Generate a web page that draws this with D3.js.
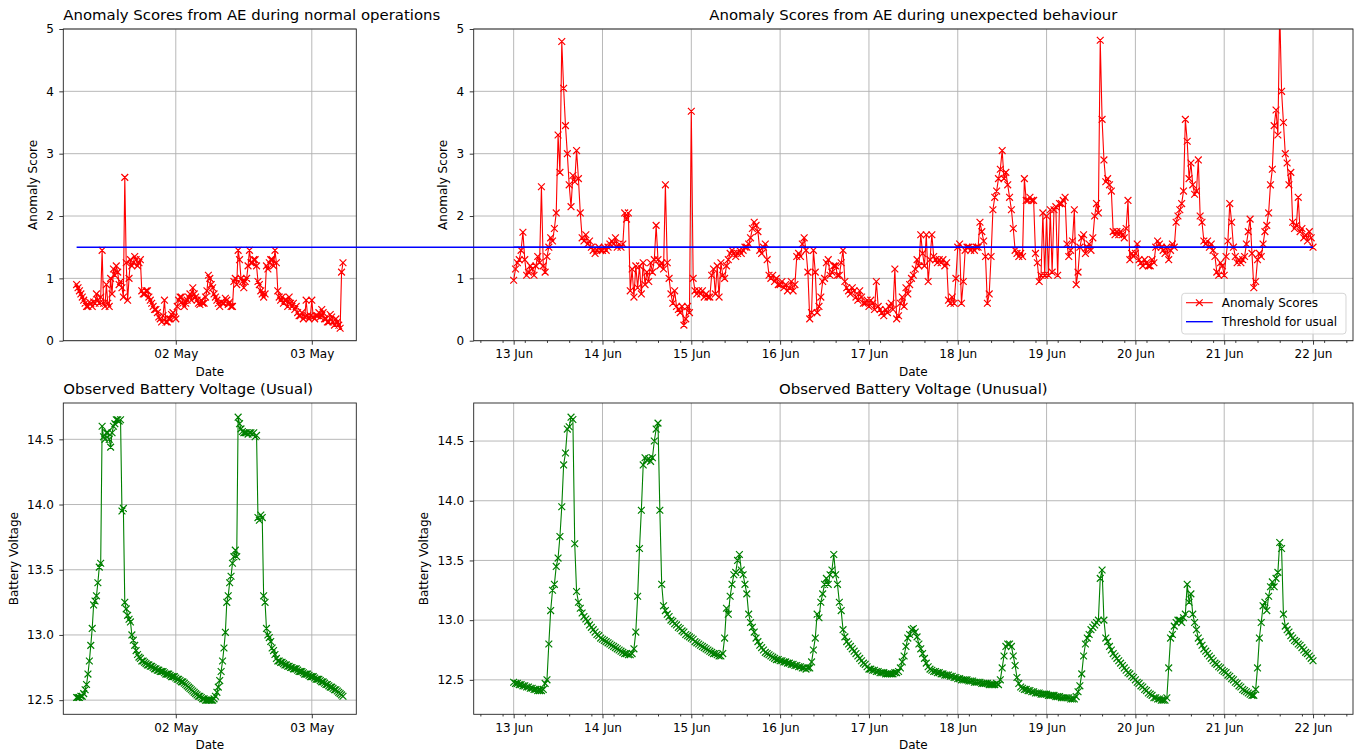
<!DOCTYPE html>
<html>

<head>
  <meta charset="utf-8">
  <title>Anomaly Scores</title>
  <style>
  body{
    margin: 0;
    background: #fff;
  }
  svg text{
    font-family: "DejaVu Sans", sans-serif;
    fill: #000;
  }
  </style>
</head>

<body>
  <svg width="1359" height="756"></svg>
  <script src="https://d3js.org/d3.v7.min.js"></script>
  <script>
    // ---- data ----
    // usual period: every 15 min from 01 May 06:30
    var usualStart = "2023-05-01T06:30:00Z";
    var usualStepMin = 15;
    var usualScores = [
      0.9, 0.85, 0.8, 0.75, 0.7, 0.65, 0.6, 0.55, 0.55, 0.62, 0.6, 0.55, 0.62, 0.6, 0.75, 0.65, 0.6, 0.7, 1.45, 0.6,
      0.55, 0.9, 0.6, 0.55, 1.0, 0.75, 1.15, 1.05, 1.2, 1.1, 0.9, 0.95, 0.85, 0.7, 2.62, 1.25, 0.65, 1.0, 1.3, 1.2,
      1.25, 1.35, 1.3, 1.2, 1.25, 1.3, 0.8, 0.75, 0.75, 0.8, 0.8, 0.7, 0.65, 0.6, 0.55, 0.5, 0.5, 0.45, 0.38, 0.35,
      0.3, 0.4, 0.65, 0.3, 0.3, 0.35, 0.35, 0.42, 0.45, 0.38, 0.35, 0.55, 0.65, 0.7, 0.7, 0.6, 0.55, 0.6, 0.65, 0.7,
      0.75, 0.65, 0.85, 0.75, 0.7, 0.65, 0.6, 0.58, 0.65, 0.6, 0.6, 0.7, 0.8, 1.05, 1.0, 0.9, 0.85, 0.75, 0.7, 0.65,
      0.6, 0.55, 0.62, 0.6, 0.6, 0.68, 0.65, 0.58, 0.62, 0.55, 0.55, 0.95, 1.0, 0.9, 1.45, 1.3, 1.0, 0.95, 0.85, 0.95,
      1.0, 1.2, 1.45, 1.25, 1.25, 1.3, 1.3, 1.2, 0.95, 0.9, 0.8, 0.75, 0.7, 0.75, 1.2, 1.15, 1.25, 1.3, 1.3, 1.2,
      1.45, 1.25, 0.8, 0.7, 0.65, 0.7, 0.6, 0.65, 0.65, 0.55, 0.7, 0.6, 0.55, 0.6, 0.5, 0.55, 0.45, 0.4, 0.4, 0.45,
      0.35, 0.38, 0.65, 0.4, 0.35, 0.4, 0.65, 0.38, 0.35, 0.4, 0.4, 0.45, 0.38, 0.5, 0.45, 0.35, 0.35, 0.3, 0.3, 0.42,
      0.38, 0.3, 0.25, 0.35, 0.3, 0.25, 0.2, 1.1, 1.25
    ];
    var usualVoltage = [
      12.52, 12.52, 12.52, 12.53, 12.53, 12.55, 12.58, 12.62, 12.7, 12.8, 12.92, 13.05, 13.23, 13.26, 13.3, 13.4, 13.52, 13.55, 14.6, 14.52,
      14.5, 14.55, 14.55, 14.5, 14.44, 14.55, 14.6, 14.62, 14.65, 14.65, 14.64, 14.65, 13.95, 13.97, 13.25, 13.2, 13.15, 13.12, 13.1, 13.0,
      12.96, 12.92, 12.88, 12.85, 12.83, 12.82, 12.8, 12.8, 12.79, 12.78, 12.77, 12.77, 12.76, 12.76, 12.75, 12.74, 12.74, 12.73, 12.73, 12.72,
      12.72, 12.72, 12.71, 12.7, 12.7, 12.7, 12.69, 12.68, 12.68, 12.68, 12.67, 12.66, 12.66, 12.65, 12.64, 12.64, 12.63, 12.62, 12.61, 12.6,
      12.59, 12.58, 12.57, 12.56, 12.55, 12.54, 12.53, 12.53, 12.52, 12.51, 12.51, 12.5, 12.5, 12.5, 12.5, 12.5, 12.5, 12.51, 12.53, 12.56,
      12.6, 12.65, 12.72, 12.8, 12.9, 13.02, 13.25, 13.3, 13.4, 13.45, 13.55, 13.6, 13.65, 13.6, 14.67, 14.62, 14.58, 14.56, 14.55, 14.55,
      14.55, 14.54, 14.55, 14.55, 14.54, 14.55, 14.52, 14.53, 13.9, 13.88, 13.92, 13.9, 13.3, 13.25, 13.05, 13.0, 12.98, 12.95, 12.9, 12.88,
      12.85, 12.82, 12.8, 12.8, 12.79, 12.79, 12.78, 12.77, 12.77, 12.76, 12.76, 12.75, 12.75, 12.74, 12.74, 12.74, 12.73, 12.72, 12.72, 12.72,
      12.71, 12.7, 12.7, 12.7, 12.69, 12.68, 12.68, 12.68, 12.67, 12.66, 12.66, 12.66, 12.65, 12.64, 12.64, 12.63, 12.62, 12.62, 12.61, 12.6,
      12.6, 12.59, 12.58, 12.58, 12.57, 12.56, 12.55, 12.54, 12.53
    ];

    // unusual period: every 30 min from 13 Jun 00:00 to 22 Jun 00:00, one row per day
    var unusualStart = "2023-06-13T00:00:00Z";
    var unusualStepMin = 30;
    var unusualScores = [
      0.97, 1.15, 1.25, 1.3, 1.45, 1.74, 1.3, 1.05, 1.1, 1.2, 1.15, 1.05, 1.2, 1.35, 1.25, 2.47, 1.2, 1.1, 1.35, 1.5, 1.65, 1.6, 1.8, 2.05, 3.3, 2.7, 4.8, 4.05, 3.45, 3.0, 2.5, 2.15, 2.65, 2.55, 3.05, 2.6, 2.05, 1.65, 1.6, 1.7, 1.55, 1.6, 1.5, 1.45, 1.4, 1.45, 1.5, 1.45,
      1.45, 1.5, 1.45, 1.5, 1.55, 1.6, 1.55, 1.65, 1.5, 1.55, 1.5, 1.55, 2.05, 1.95, 2.05, 0.8, 1.15, 0.7, 1.2, 0.85, 1.2, 0.75, 1.25, 0.9, 1.1, 0.95, 1.25, 1.1, 1.3, 1.85, 1.3, 1.2, 1.25, 1.15, 2.5, 1.25, 1.0, 0.75, 0.6, 0.8, 0.55, 0.5, 0.45, 0.55, 0.25, 0.35, 0.55, 0.45,
      3.68, 1.0, 0.8, 0.75, 0.8, 0.75, 0.8, 0.7, 0.75, 0.7, 0.7, 1.05, 1.15, 0.75, 1.2, 0.7, 1.25, 1.05, 1.0, 1.2, 1.3, 1.4, 1.45, 1.4, 1.35, 1.4, 1.45, 1.4, 1.45, 1.5, 1.5, 1.55, 1.65, 1.8, 1.9, 1.85, 1.75, 1.45, 1.4, 1.5, 1.55, 1.3, 1.05, 1.0, 1.05, 0.95, 1.0, 0.9,
      0.9, 0.95, 0.85, 0.9, 0.8, 0.85, 0.95, 0.8, 0.9, 1.35, 1.4, 1.35, 1.55, 1.65, 1.45, 1.1, 0.35, 0.45, 1.45, 1.1, 0.45, 0.55, 0.7, 0.95, 1.0, 1.25, 1.3, 1.05, 1.1, 1.2, 1.2, 1.05, 1.05, 1.25, 1.45, 0.95, 0.85, 0.8, 0.75, 0.85, 0.8, 0.7, 0.65, 0.8, 0.7, 0.6, 0.6, 0.65,
      0.55, 0.65, 0.6, 0.5, 0.95, 0.55, 0.5, 0.45, 0.4, 0.5, 0.45, 0.55, 0.6, 0.5, 1.15, 0.35, 0.4, 0.6, 0.7, 0.55, 0.85, 0.75, 0.9, 1.0, 1.05, 1.15, 1.3, 1.2, 1.7, 1.4, 1.2, 1.7, 0.95, 1.3, 1.7, 1.35, 1.3, 1.25, 1.3, 1.25, 1.3, 1.2, 1.25, 0.65, 0.6, 0.7, 0.6, 1.0,
      1.5, 1.55, 0.6, 0.95, 1.45, 1.5, 1.5, 1.45, 1.5, 1.45, 1.5, 1.5, 1.9, 1.75, 1.6, 1.35, 0.6, 0.75, 1.35, 2.1, 2.3, 2.4, 2.6, 2.75, 3.05, 2.6, 2.7, 2.5, 2.3, 2.1, 1.8, 1.45, 1.4, 1.35, 1.4, 1.35, 2.6, 2.25, 2.25, 2.3, 2.25, 2.25, 1.4, 1.25, 0.95, 1.05, 2.05, 1.05,
      2.0, 1.05, 2.1, 1.1, 2.1, 2.15, 1.05, 2.2, 2.2, 2.25, 2.3, 1.55, 1.35, 1.45, 1.6, 2.1, 0.9, 1.1, 1.5, 1.65, 1.7, 1.4, 1.5, 1.55, 1.45, 1.65, 2.0, 2.2, 2.05, 4.82, 3.55, 2.9, 2.55, 2.6, 2.5, 2.4, 1.75, 1.7, 1.75, 1.7, 1.75, 1.7, 1.65, 1.8, 2.25, 1.3, 1.4, 1.35,
      1.4, 1.55, 1.3, 1.25, 1.2, 1.3, 1.25, 1.2, 1.2, 1.3, 1.25, 1.5, 1.6, 1.55, 1.5, 1.45, 1.4, 1.5, 1.3, 1.45, 1.55, 1.5, 1.9, 2.0, 2.1, 2.2, 2.4, 3.55, 3.2, 2.6, 2.85, 2.5, 2.35, 2.4, 2.9, 2.0, 1.9, 1.6, 1.55, 1.6, 1.5, 1.55, 1.45, 1.35, 1.1, 1.05, 1.25, 1.2,
      1.05, 1.35, 1.6, 2.2, 1.9, 1.5, 1.35, 1.25, 1.3, 1.25, 1.3, 1.35, 1.55, 1.75, 1.95, 1.4, 0.85, 0.95, 1.3, 1.4, 1.35, 1.55, 1.75, 1.85, 2.05, 2.5, 2.75, 3.45, 3.7, 3.3, 5.3, 4.0, 3.5, 3.0, 2.85, 2.5, 2.7, 1.9, 1.8, 1.85, 2.3, 1.75, 1.8, 1.65, 1.7, 1.6, 1.75, 1.65,
      1.5
    ];
    var unusualVoltage = [
      12.48, 12.47, 12.47, 12.46, 12.46, 12.45, 12.45, 12.44, 12.44, 12.43, 12.43, 12.42, 12.42, 12.41, 12.41, 12.41, 12.42, 12.47, 12.5, 12.8, 13.08, 13.25, 13.3, 13.45, 13.52, 13.7, 13.95, 14.3, 14.4, 14.6, 14.62, 14.7, 14.68, 13.64, 13.24, 13.15, 13.1, 13.06, 13.03, 13.01, 12.99, 12.96, 12.94, 12.92, 12.9, 12.88, 12.87, 12.85,
      12.84, 12.83, 12.82, 12.81, 12.8, 12.79, 12.78, 12.77, 12.76, 12.75, 12.74, 12.73, 12.72, 12.72, 12.71, 12.71, 12.72, 12.76, 12.9, 13.2, 13.6, 13.92, 14.3, 14.36, 14.34, 14.35, 14.33, 14.36, 14.5, 14.6, 14.65, 13.92, 13.3, 13.12, 13.08, 13.05, 13.03, 13.0, 12.99, 12.97, 12.96, 12.94, 12.93, 12.91, 12.9, 12.88, 12.87, 12.86,
      12.85, 12.84, 12.82, 12.81, 12.8, 12.79, 12.78, 12.77, 12.76, 12.75, 12.74, 12.73, 12.72, 12.72, 12.71, 12.7, 12.7, 12.72, 12.85, 13.1, 13.05, 13.2, 13.3, 13.38, 13.4, 13.5, 13.55, 13.42, 13.38, 13.3, 13.22, 13.05, 12.98, 12.94, 12.9, 12.85, 12.82, 12.79, 12.77, 12.75, 12.73, 12.72, 12.71, 12.7, 12.69, 12.68, 12.67, 12.67,
      12.66, 12.66, 12.65, 12.65, 12.64, 12.64, 12.63, 12.63, 12.62, 12.62, 12.61, 12.61, 12.6, 12.6, 12.59, 12.6, 12.6, 12.65, 12.75, 12.85, 13.05, 13.02, 13.15, 13.22, 13.3, 13.35, 13.3, 13.38, 13.42, 13.55, 13.38, 13.3, 13.15, 13.08, 12.92, 12.86, 12.82, 12.8, 12.78, 12.76, 12.74, 12.72, 12.7, 12.68, 12.66, 12.64, 12.63, 12.61,
      12.59, 12.59, 12.58, 12.58, 12.57, 12.57, 12.56, 12.56, 12.56, 12.55, 12.55, 12.55, 12.55, 12.55, 12.56, 12.56, 12.57, 12.6, 12.65, 12.7, 12.78, 12.85, 12.88, 12.92, 12.93, 12.9, 12.86, 12.8, 12.76, 12.72, 12.68, 12.64, 12.61, 12.59, 12.58, 12.57, 12.57, 12.56, 12.56, 12.55, 12.55, 12.54, 12.54, 12.54, 12.53, 12.53, 12.52, 12.52,
      12.51, 12.51, 12.5, 12.5, 12.5, 12.5, 12.49, 12.49, 12.49, 12.48, 12.48, 12.48, 12.48, 12.47, 12.47, 12.47, 12.47, 12.46, 12.46, 12.46, 12.46, 12.47, 12.46, 12.5, 12.6, 12.7, 12.78, 12.8, 12.8, 12.78, 12.7, 12.62, 12.52, 12.47, 12.44, 12.43, 12.42, 12.42, 12.41, 12.41, 12.4, 12.4, 12.39, 12.39, 12.39, 12.38, 12.38, 12.38,
      12.38, 12.37, 12.37, 12.37, 12.37, 12.36, 12.36, 12.36, 12.35, 12.35, 12.35, 12.35, 12.35, 12.34, 12.34, 12.34, 12.36, 12.4, 12.45, 12.55, 12.7, 12.8, 12.85, 12.88, 12.92, 12.94, 12.96, 12.98, 13.0, 13.35, 13.42, 13.0, 12.85, 12.82, 12.78, 12.75, 12.72, 12.7, 12.68, 12.66, 12.64, 12.62, 12.6, 12.58, 12.56, 12.55, 12.53, 12.52,
      12.5, 12.48, 12.47, 12.45, 12.44, 12.42, 12.41, 12.39, 12.38, 12.37, 12.35, 12.35, 12.34, 12.34, 12.33, 12.33, 12.33, 12.35, 12.6, 12.85, 12.88, 12.95, 12.98, 13.0, 13.0, 12.98, 13.02, 13.05, 13.3, 13.15, 13.22, 13.05, 12.98, 12.92, 12.85, 12.82, 12.79, 12.76, 12.74, 12.72, 12.7, 12.68, 12.66, 12.64, 12.63, 12.61, 12.6, 12.58,
      12.57, 12.56, 12.54, 12.53, 12.51, 12.5, 12.48, 12.47, 12.45, 12.44, 12.42, 12.41, 12.4, 12.39, 12.38, 12.37, 12.37, 12.42, 12.6, 12.85, 12.98, 13.12, 13.15, 13.08, 13.2, 13.28, 13.32, 13.28, 13.35, 13.4, 13.65, 13.6, 13.05, 12.95, 12.92, 12.9, 12.87, 12.85, 12.83, 12.82, 12.8, 12.79, 12.77, 12.75, 12.73, 12.72, 12.7, 12.68,
      12.66
    ];

    var threshold = 1.5;
    var scoreTicks = [0, 1, 2, 3, 4, 5];
    var voltTicks = [12.5, 13.0, 13.5, 14.0, 14.5];

    // ---- helpers ----
    function makeTimes(start, stepMin, n) {
      var t0 = new Date(start);
      return d3.range(n).map(i => d3.utcMinute.offset(t0, i * stepMin));
    }
    function pad(ext, frac) {
      var s = ext[1] - ext[0];
      return [ext[0] - s * frac, ext[1] + s * frac];
    }
    function padTime(ext) {
      var s = ext[1] - ext[0];
      return [new Date(+ext[0] - s * 0.05), new Date(+ext[1] + s * 0.05)];
    }

    var usualTimes = makeTimes(usualStart, usualStepMin, usualScores.length);
    var unusualTimes = makeTimes(unusualStart, unusualStepMin, unusualScores.length);

    var usualRows = usualTimes.map((t, i) => ({ t: t, s: usualScores[i], v: usualVoltage[i] }));
    var unusualRows = unusualTimes.map((t, i) => ({ t: t, s: unusualScores[i], v: unusualVoltage[i] }));

    var svg = d3.select("svg");
    var fmt = d3.utcFormat("%d %b");

    var xLeft = d3.scaleUtc().domain(padTime(d3.extent(usualTimes))).range([63.3, 356.3]);
    var xRight = d3.scaleUtc().domain(padTime(d3.extent(unusualTimes))).range([473.7, 1353]);
    var yScoreTop = d3.scaleLinear().domain([0, 5]).range([340.7, 29]);
    var yVoltLeft = d3.scaleLinear().domain(pad(d3.extent(usualVoltage), 0.05)).range([714.3, 403]);
    var yVoltRight = d3.scaleLinear().domain(pad(d3.extent(unusualVoltage), 0.05)).range([714.3, 403]);

    var clipId = 0;
    function panel(p) {
      var x = p.x, y = p.y;
      var xr = x.range(), yr = y.range();
      var g = svg.append("g");
      var dayTicks = x.ticks(d3.utcDay.every(1));

      // grid
      g.selectAll(null).data(dayTicks).join("line")
        .attr("x1", d => x(d)).attr("x2", d => x(d))
        .attr("y1", yr[0]).attr("y2", yr[1])
        .attr("stroke", "#b0b0b0").attr("stroke-width", 0.9);
      g.selectAll(null).data(p.yTicks).join("line")
        .attr("x1", xr[0]).attr("x2", xr[1])
        .attr("y1", d => y(d)).attr("y2", d => y(d))
        .attr("stroke", "#b0b0b0").attr("stroke-width", 0.9);

      // series
      clipId++;
      svg.append("clipPath").attr("id", "clip" + clipId)
        .append("rect").attr("x", xr[0]).attr("y", yr[1])
        .attr("width", xr[1] - xr[0]).attr("height", yr[0] - yr[1]);
      var data = g.append("g").attr("clip-path", "url(#clip" + clipId + ")");
      var line = d3.line().x(d => x(d.t)).y(d => y(d[p.key]));
      data.append("path").attr("d", line(p.rows))
        .attr("fill", "none").attr("stroke", p.color).attr("stroke-width", 1.1)
        .attr("stroke-linejoin", "round");
      var m = 3.4;
      data.append("path")
        .attr("d", p.rows.map(d => {
          var cx = x(d.t), cy = y(d[p.key]);
          return "M" + (cx - m) + "," + (cy - m) + "L" + (cx + m) + "," + (cy + m) +
            "M" + (cx - m) + "," + (cy + m) + "L" + (cx + m) + "," + (cy - m);
        }).join(""))
        .attr("fill", "none").attr("stroke", p.color).attr("stroke-width", 1.2);

      // axes
      g.append("g").attr("transform", "translate(0," + yr[0] + ")")
        .call(d3.axisBottom(x).tickValues(dayTicks).tickFormat(fmt).tickSize(4).tickPadding(5).tickSizeOuter(0));
      if (p.minor) {
        var minorTicks = d3.utcHour.range(x.domain()[0], x.domain()[1])
          .filter(d => d.getUTCHours() % 6 === 3);
        g.append("g").attr("transform", "translate(0," + yr[0] + ")")
          .call(d3.axisBottom(x).tickValues(minorTicks).tickFormat("").tickSize(2.2).tickSizeOuter(0));
      }
      g.append("g").attr("transform", "translate(" + xr[0] + ",0)")
        .call(d3.axisLeft(y).tickValues(p.yTicks).tickFormat(p.yFmt).tickSize(4).tickPadding(5.5).tickSizeOuter(0));
      g.selectAll(".domain").remove();
      g.selectAll(".tick text").style("font-size", "12px").style("font-family", "DejaVu Sans, sans-serif");
      g.selectAll(".tick line").attr("stroke", "#222").attr("stroke-width", 0.9);

      // frame
      g.append("rect").attr("x", xr[0]).attr("y", yr[1])
        .attr("width", xr[1] - xr[0]).attr("height", yr[0] - yr[1])
        .attr("fill", "none").attr("stroke", "#222").attr("stroke-width", 0.9);

      // labels
      var tx = p.titleLeft ? xr[0] : (xr[0] + xr[1]) / 2;
      g.append("text").attr("x", tx).attr("y", yr[1] - 9)
        .attr("text-anchor", p.titleLeft ? "start" : "middle")
        .style("font-size", "14.9px").text(p.title);
      g.append("text").attr("x", (xr[0] + xr[1]) / 2).attr("y", yr[0] + 35)
        .attr("text-anchor", "middle").style("font-size", "12px").text("Date");
      g.append("text")
        .attr("transform", "translate(" + p.yLabelX + "," + (yr[0] + yr[1]) / 2 + ") rotate(-90)")
        .attr("text-anchor", "middle").style("font-size", "12px").text(p.yLabel);
      return g;
    }

    var fmtInt = d3.format("d"), fmt1 = d3.format(".1f");

    panel({ x: xLeft, y: yScoreTop, rows: usualRows, key: "s", color: "#ff0000", yTicks: scoreTicks, yFmt: fmtInt,
      title: "Anomaly Scores from AE during normal operations", titleLeft: true, yLabel: "Anomaly Score", yLabelX: 37 });
    panel({ x: xRight, y: yScoreTop, rows: unusualRows, key: "s", color: "#ff0000", yTicks: scoreTicks, yFmt: fmtInt, minor: true,
      title: "Anomaly Scores from AE during unexpected behaviour", yLabel: "Anomaly Score", yLabelX: 447 });
    panel({ x: xLeft, y: yVoltLeft, rows: usualRows, key: "v", color: "#008000", yTicks: voltTicks, yFmt: fmt1,
      title: "Observed Battery Voltage (Usual)", titleLeft: true, yLabel: "Battery Voltage", yLabelX: 18 });
    panel({ x: xRight, y: yVoltRight, rows: unusualRows, key: "v", color: "#008000", yTicks: voltTicks, yFmt: fmt1, minor: true,
      title: "Observed Battery Voltage (Unusual)", yLabel: "Battery Voltage", yLabelX: 428 });

    // threshold lines (the usual one is not clipped and runs across to the right panel)
    var tEnd = d3.max(unusualTimes);
    svg.append("line")
      .attr("x1", xLeft(usualTimes[0])).attr("x2", xRight(tEnd))
      .attr("y1", yScoreTop(threshold)).attr("y2", yScoreTop(threshold))
      .attr("stroke", "#0000ff").attr("stroke-width", 1.4);
    svg.append("line")
      .attr("x1", xRight(unusualTimes[0])).attr("x2", xRight(tEnd))
      .attr("y1", yScoreTop(threshold)).attr("y2", yScoreTop(threshold))
      .attr("stroke", "#0000ff").attr("stroke-width", 1.4);

    // legend, lower right of the top right panel
    var lx = xRight.range()[1] - 171.3, ly = yScoreTop.range()[0] - 47.4;
    var lg = svg.append("g").attr("transform", "translate(" + lx + "," + ly + ")");
    lg.append("rect").attr("width", 164.3).attr("height", 40.7).attr("rx", 3)
      .attr("fill", "#fff").attr("fill-opacity", 0.8).attr("stroke", "#d0d0d0").attr("stroke-width", 0.9);
    var items = [{ name: "Anomaly Scores", color: "#ff0000", marker: true }, { name: "Threshold for usual", color: "#0000ff" }];
    items.forEach((it, i) => {
      var cy = 9.4 + i * 19;
      lg.append("line").attr("x1", 4.3).attr("x2", 31).attr("y1", cy).attr("y2", cy)
        .attr("stroke", it.color).attr("stroke-width", it.marker ? 1.1 : 1.4);
      if (it.marker) {
        lg.append("path").attr("d", "M14.3,6.1L21,12.7M14.3,12.7L21,6.1")
          .attr("stroke", it.color).attr("stroke-width", 1.2);
      }
      lg.append("text").attr("x", 40).attr("y", cy + 4.3).style("font-size", "12px").text(it.name);
    });
  </script>

</body>

</html>
